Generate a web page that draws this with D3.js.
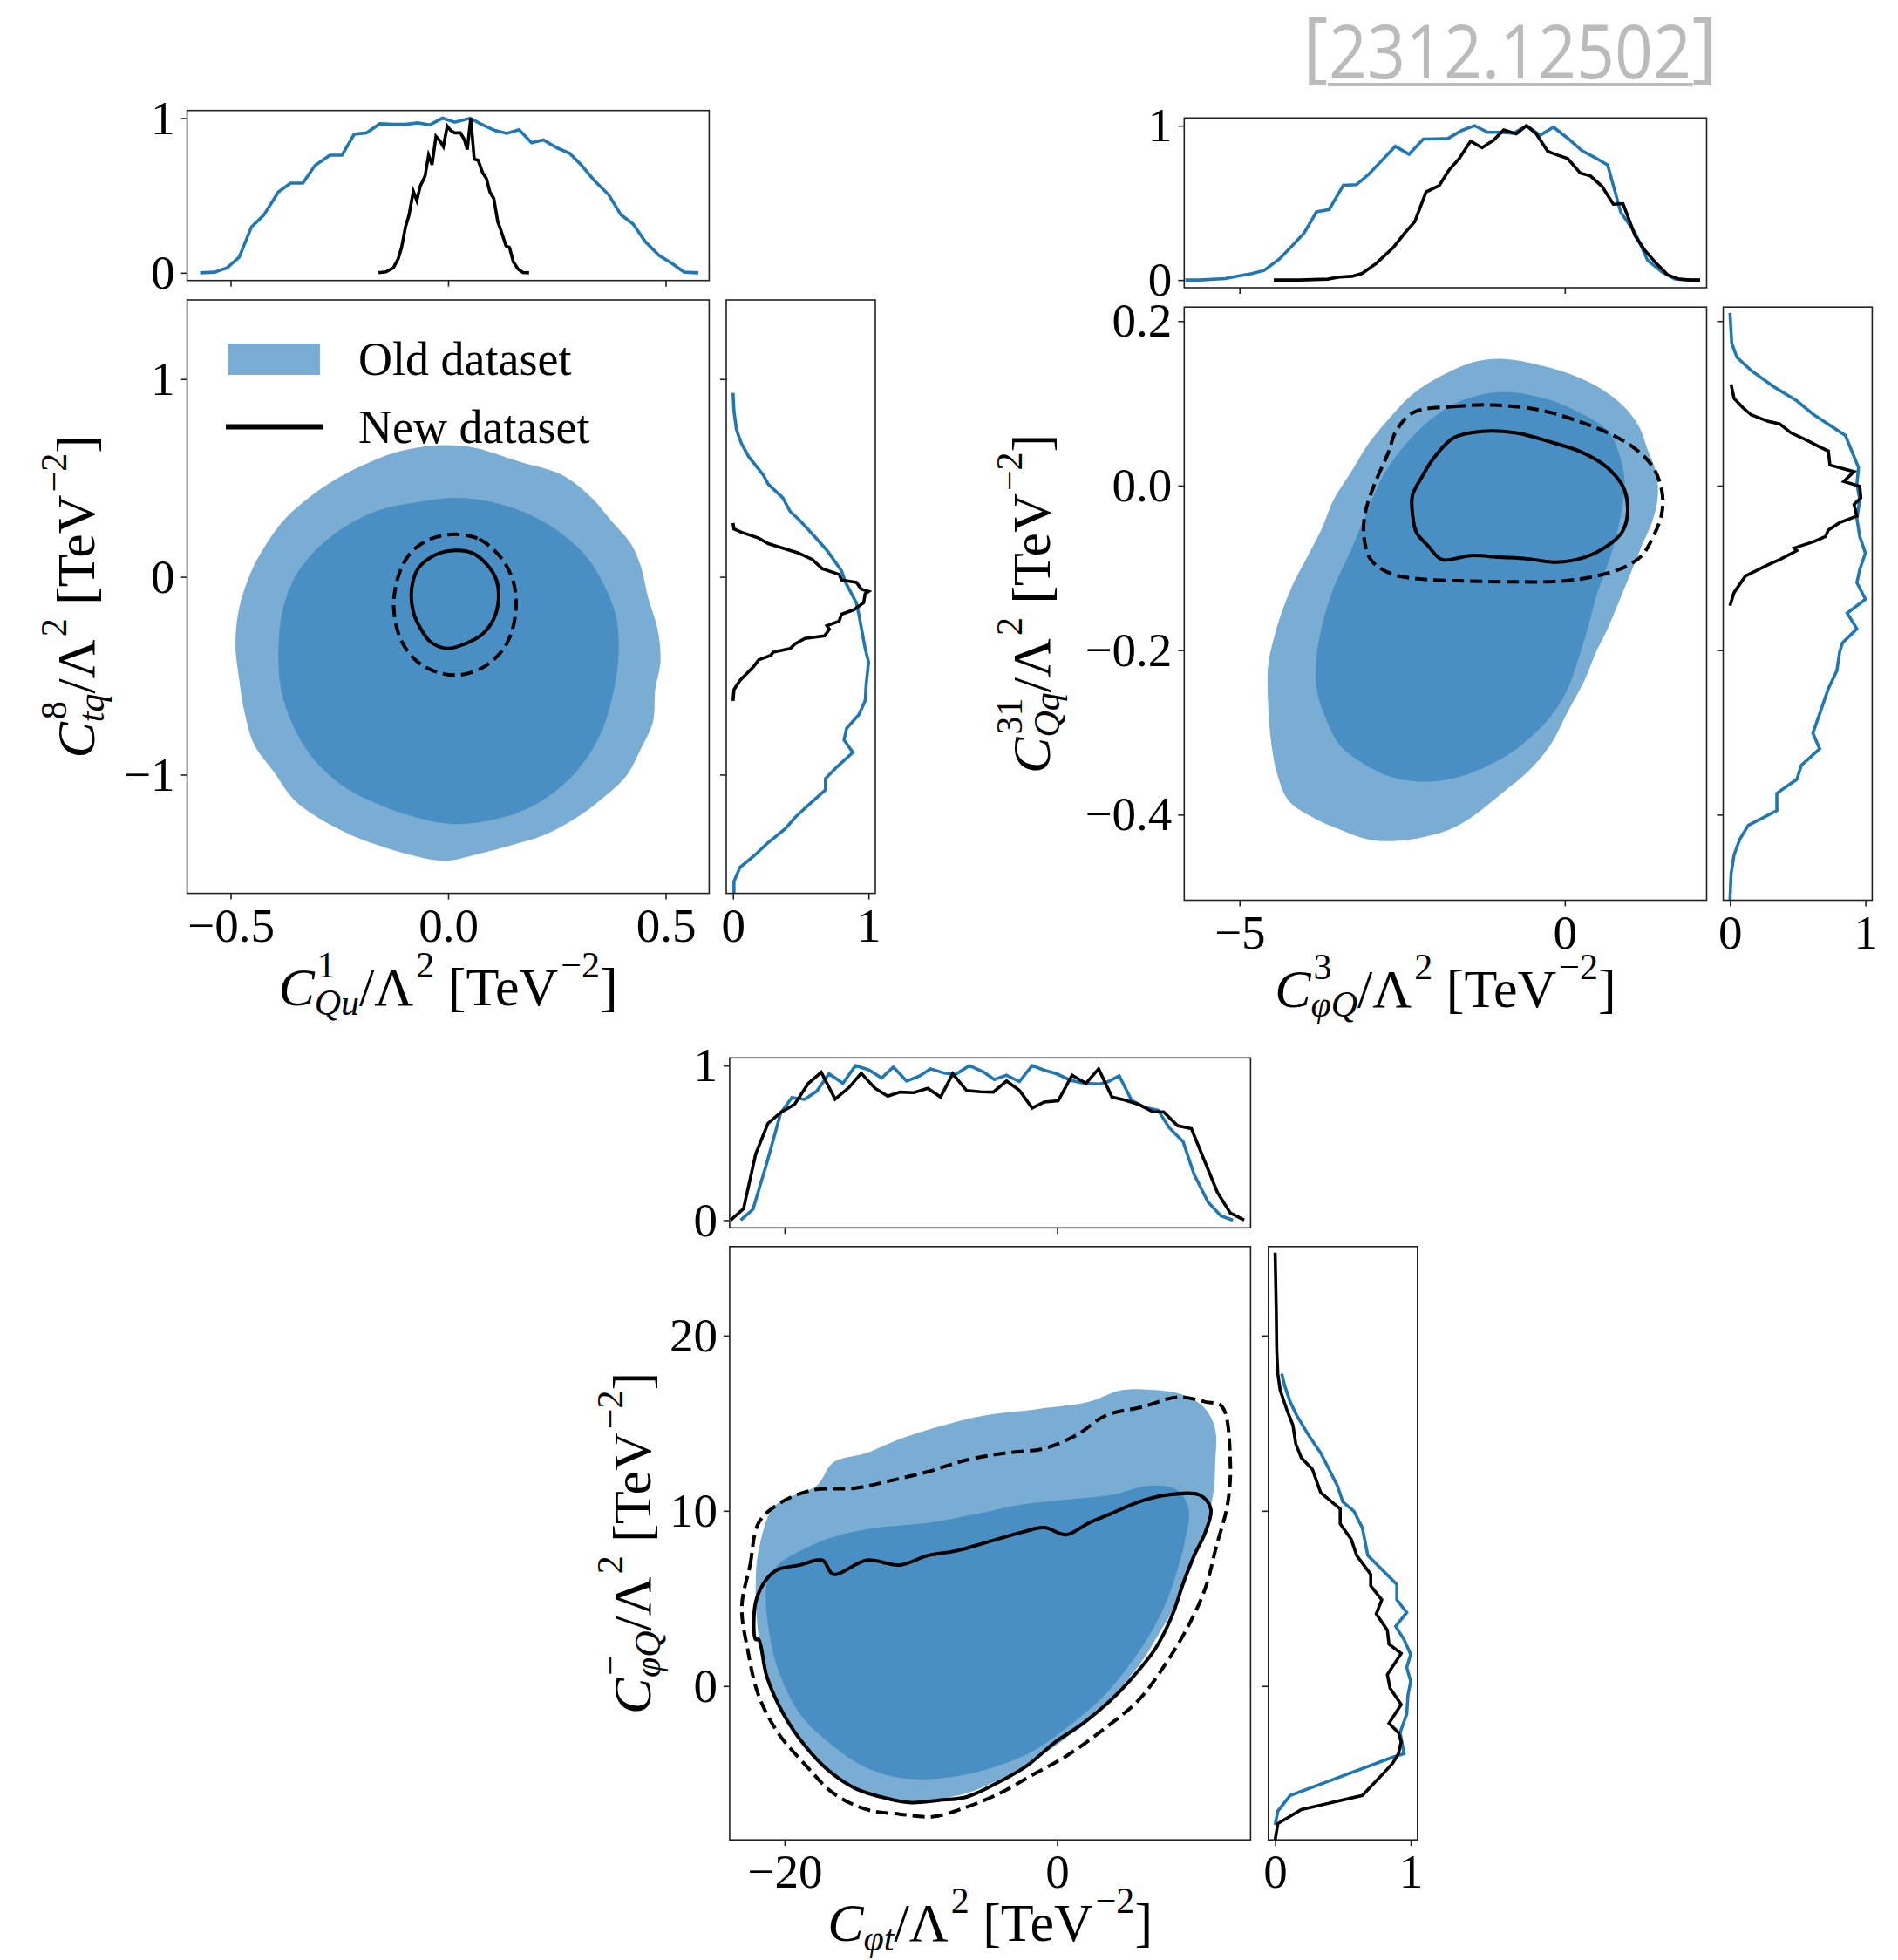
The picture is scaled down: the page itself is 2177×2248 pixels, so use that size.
<!DOCTYPE html>
<html lang="en">
<head>
<meta charset="UTF-8">
<title>Old vs new dataset</title>
<script src="https://d3js.org/d3.v7.min.js"></script>
<style>
    body { margin: 0; background: #fff; }
    svg { font-family: "Liberation Serif", "DejaVu Serif", serif; }
</style>
</head>
<body>
<div id="chart"></div>
<script>

// ---------- data: panel A (C1Qu vs C8tq) ----------
var aOldOuter = [[-0.030,0.664],[0.060,0.653],[0.161,0.584],[0.263,0.514],[0.330,0.399],[0.375,0.284],[0.420,0.168],[0.443,0.053],[0.460,-0.108],[0.482,-0.270],[0.488,-0.431],[0.476,-0.570],[0.471,-0.731],[0.443,-0.870],[0.409,-1.008],[0.353,-1.123],[0.296,-1.216],[0.218,-1.308],[0.150,-1.354],[0.071,-1.400],[-0.007,-1.435],[-0.097,-1.400],[-0.165,-1.354],[-0.232,-1.296],[-0.300,-1.216],[-0.356,-1.123],[-0.401,-0.985],[-0.446,-0.847],[-0.468,-0.685],[-0.480,-0.524],[-0.489,-0.339],[-0.480,-0.155],[-0.452,0.030],[-0.424,0.145],[-0.379,0.284],[-0.334,0.376],[-0.277,0.468],[-0.199,0.561],[-0.120,0.630]];
var aOldInner = [[-0.075,0.376],[0.015,0.399],[0.105,0.376],[0.195,0.307],[0.263,0.215],[0.319,0.099],[0.358,-0.039],[0.386,-0.201],[0.392,-0.385],[0.381,-0.570],[0.358,-0.754],[0.319,-0.916],[0.263,-1.054],[0.184,-1.170],[0.105,-1.227],[0.015,-1.250],[-0.075,-1.216],[-0.165,-1.146],[-0.244,-1.054],[-0.311,-0.916],[-0.356,-0.754],[-0.384,-0.570],[-0.390,-0.362],[-0.379,-0.155],[-0.350,0.007],[-0.300,0.145],[-0.232,0.261],[-0.154,0.341]];
var aNewSolid = [[0.015,0.134],[0.054,0.122],[0.088,0.065],[0.111,-0.016],[0.116,-0.108],[0.105,-0.212],[0.077,-0.293],[0.038,-0.339],[-0.002,-0.362],[-0.041,-0.328],[-0.064,-0.258],[-0.080,-0.178],[-0.084,-0.062],[-0.069,0.042],[-0.030,0.111]];
var aNewDashed = [[0.015,0.215],[0.071,0.191],[0.116,0.111],[0.145,0.007],[0.156,-0.108],[0.150,-0.247],[0.128,-0.362],[0.083,-0.454],[0.026,-0.496],[-0.030,-0.478],[-0.075,-0.420],[-0.109,-0.316],[-0.125,-0.155],[-0.114,0.007],[-0.086,0.122],[-0.041,0.191]];
var aTopOld = [[-0.570,0],[-0.537,0.004],[-0.508,0.032],[-0.480,0.102],[-0.452,0.297],[-0.424,0.372],[-0.390,0.524],[-0.362,0.580],[-0.334,0.580],[-0.306,0.694],[-0.272,0.761],[-0.244,0.761],[-0.216,0.896],[-0.188,0.905],[-0.157,0.964],[-0.126,0.960],[-0.098,0.960],[-0.070,0.970],[-0.042,0.957],[-0.013,1.0],[0.015,0.974],[0.051,1.0],[0.076,0.962],[0.107,0.921],[0.135,0.902],[0.163,0.926],[0.192,0.841],[0.219,0.860],[0.251,0.807],[0.279,0.773],[0.307,0.694],[0.335,0.600],[0.369,0.505],[0.397,0.376],[0.425,0.316],[0.453,0.202],[0.485,0.112],[0.515,0.060],[0.543,0.004],[0.575,0]];
var aTopNew = [[-0.160,0],[-0.143,0.006],[-0.126,0.032],[-0.115,0.089],[-0.107,0.164],[-0.098,0.297],[-0.090,0.372],[-0.080,0.527],[-0.072,0.467],[-0.064,0.561],[-0.053,0.627],[-0.045,0.761],[-0.037,0.699],[-0.028,0.882],[-0.019,0.853],[-0.011,0.816],[-0.002,0.949],[0.006,0.921],[0.015,0.905],[0.028,0.905],[0.037,0.863],[0.044,0.797],[0.052,1.0],[0.060,0.735],[0.069,0.728],[0.079,0.648],[0.088,0.610],[0.096,0.522],[0.105,0.480],[0.114,0.331],[0.121,0.278],[0.133,0.174],[0.141,0.164],[0.150,0.070],[0.161,0.023],[0.172,0.002],[0.186,0]];
var aRightOld = [[0.007,-1.600],[0.007,-1.539],[0.051,-1.469],[0.152,-1.412],[0.260,-1.343],[0.386,-1.273],[0.458,-1.216],[0.549,-1.158],[0.682,-1.077],[0.682,-1.020],[0.765,-0.962],[0.884,-0.888],[0.819,-0.824],[0.838,-0.766],[0.928,-0.697],[0.975,-0.627],[0.982,-0.547],[1.0,-0.431],[0.975,-0.362],[0.953,-0.281],[0.928,-0.189],[0.910,-0.131],[0.874,-0.085],[0.830,-0.028],[0.801,0.030],[0.693,0.134],[0.603,0.203],[0.495,0.284],[0.422,0.330],[0.368,0.399],[0.260,0.468],[0.224,0.514],[0.170,0.561],[0.116,0.607],[0.061,0.676],[0.025,0.745],[0.007,0.837],[0,0.930]];
var aRightNew = [[0,-0.627],[0.007,-0.570],[0.051,-0.524],[0.152,-0.454],[0.188,-0.420],[0.278,-0.397],[0.296,-0.381],[0.422,-0.362],[0.458,-0.339],[0.531,-0.311],[0.675,-0.298],[0.711,-0.265],[0.693,-0.247],[0.783,-0.224],[0.801,-0.189],[0.892,-0.166],[0.964,-0.131],[0.975,-0.085],[1.0,-0.074],[0.946,-0.062],[0.910,-0.028],[0.801,-0.016],[0.783,0.012],[0.657,0.042],[0.585,0.088],[0.477,0.122],[0.368,0.145],[0.260,0.168],[0.188,0.196],[0.061,0.226],[0.007,0.242],[0,0.272]];

// ---------- data: panel B (C3phiQ vs C31Qq) ----------
var bOldOuter = [[-0.921,0.154],[-0.307,0.145],[0.132,0.134],[0.570,0.117],[0.921,0.095],[1.140,0.072],[1.272,0.044],[1.404,0.016],[1.430,-0.012],[1.360,-0.040],[1.184,-0.073],[1.009,-0.107],[0.833,-0.141],[0.658,-0.174],[0.482,-0.202],[0.307,-0.236],[0.044,-0.275],[-0.219,-0.315],[-0.570,-0.348],[-0.921,-0.371],[-1.360,-0.399],[-1.711,-0.416],[-2.149,-0.427],[-2.588,-0.432],[-3.026,-0.430],[-3.465,-0.418],[-3.904,-0.402],[-4.254,-0.382],[-4.430,-0.348],[-4.518,-0.309],[-4.561,-0.264],[-4.561,-0.219],[-4.474,-0.186],[-4.342,-0.152],[-4.167,-0.118],[-3.947,-0.085],[-3.728,-0.051],[-3.553,-0.017],[-3.289,0.016],[-3.026,0.050],[-2.675,0.084],[-2.325,0.112],[-1.886,0.134],[-1.360,0.151]];
var bOldInner = [[-0.921,0.114],[-0.307,0.106],[0.219,0.089],[0.658,0.067],[0.833,0.039],[0.921,0.005],[0.877,-0.029],[0.789,-0.062],[0.658,-0.096],[0.482,-0.135],[0.351,-0.174],[0.219,-0.208],[0.044,-0.247],[-0.219,-0.281],[-0.658,-0.315],[-1.096,-0.337],[-1.623,-0.354],[-2.149,-0.360],[-2.675,-0.354],[-3.114,-0.337],[-3.465,-0.315],[-3.684,-0.281],[-3.816,-0.247],[-3.816,-0.208],[-3.728,-0.169],[-3.553,-0.124],[-3.289,-0.079],[-3.026,-0.029],[-2.763,0.016],[-2.325,0.061],[-1.798,0.095],[-1.360,0.109]];
var bNewSolid = [[-1.711,0.058],[-1.272,0.066],[-0.746,0.064],[-0.219,0.053],[0.219,0.042],[0.570,0.027],[0.789,0.011],[0.921,-0.006],[0.965,-0.034],[0.877,-0.057],[0.658,-0.073],[0.307,-0.087],[-0.132,-0.093],[-0.570,-0.089],[-1.009,-0.087],[-1.447,-0.085],[-1.886,-0.090],[-2.105,-0.073],[-2.281,-0.057],[-2.342,-0.034],[-2.342,-0.012],[-2.193,0.011],[-2.018,0.033]];
var bNewDashed = [[-2.325,0.089],[-1.711,0.096],[-1.096,0.098],[-0.395,0.092],[0.219,0.078],[0.746,0.061],[1.096,0.044],[1.360,0.022],[1.491,-0.006],[1.491,-0.034],[1.360,-0.062],[1.184,-0.085],[0.921,-0.099],[0.482,-0.110],[-0.044,-0.116],[-0.746,-0.117],[-1.447,-0.116],[-2.149,-0.114],[-2.675,-0.107],[-2.982,-0.090],[-3.088,-0.062],[-3.070,-0.034],[-2.939,-0.001],[-2.719,0.039],[-2.588,0.067]];
var bTopOld = [[-5.833,0],[-5.614,0],[-5.219,0.009],[-5.0,0.028],[-4.825,0.040],[-4.623,0.062],[-4.386,0.137],[-4.211,0.213],[-4.009,0.303],[-3.816,0.442],[-3.623,0.457],[-3.404,0.614],[-3.202,0.618],[-3.009,0.687],[-2.807,0.777],[-2.605,0.866],[-2.395,0.815],[-2.175,0.913],[-1.974,0.915],[-1.798,0.917],[-1.579,0.970],[-1.386,1.0],[-1.184,0.957],[-0.991,0.957],[-0.789,0.951],[-0.588,1.0],[-0.377,0.938],[-0.175,0.991],[0.044,0.919],[0.263,0.838],[0.465,0.793],[0.658,0.746],[0.860,0.439],[1.079,0.307],[1.272,0.128],[1.491,0.053],[1.693,0.006],[1.886,0],[2.079,0]];
var bTopNew = [[-4.474,0],[-4.079,0],[-3.640,0.006],[-3.465,0.019],[-3.272,0.024],[-3.114,0.043],[-2.895,0.109],[-2.632,0.213],[-2.456,0.307],[-2.307,0.377],[-2.132,0.571],[-1.930,0.612],[-1.781,0.712],[-1.623,0.787],[-1.447,0.900],[-1.272,0.857],[-1.096,0.906],[-0.939,0.972],[-0.746,0.947],[-0.588,1.0],[-0.439,0.947],[-0.263,0.834],[-0.132,0.812],[0.044,0.787],[0.237,0.693],[0.395,0.674],[0.570,0.608],[0.746,0.491],[0.895,0.495],[1.079,0.288],[1.228,0.194],[1.404,0.109],[1.579,0.034],[1.754,0.006],[1.930,0],[2.079,0]];
var bRightOld = [[0,-0.504],[0.008,-0.472],[0.030,-0.449],[0.072,-0.430],[0.135,-0.413],[0.346,-0.395],[0.346,-0.374],[0.494,-0.357],[0.527,-0.340],[0.662,-0.320],[0.612,-0.301],[0.684,-0.267],[0.726,-0.247],[0.789,-0.225],[0.810,-0.202],[0.831,-0.191],[0.937,-0.174],[0.865,-0.155],[1.0,-0.138],[0.937,-0.118],[0.958,-0.102],[1.0,-0.082],[0.958,-0.062],[0.937,-0.040],[0.958,-0.017],[0.937,0.002],[0.949,0.022],[0.852,0.061],[0.620,0.086],[0.494,0.103],[0.325,0.120],[0.156,0.140],[0.051,0.156],[0.013,0.173],[0,0.210]];
var bRightNew = [[0,-0.146],[0.030,-0.130],[0.114,-0.110],[0.283,-0.096],[0.367,-0.090],[0.494,-0.079],[0.473,-0.076],[0.620,-0.068],[0.705,-0.062],[0.726,-0.054],[0.810,-0.045],[0.937,-0.037],[0.916,-0.023],[0.966,-0.015],[0.958,-0.001],[0.840,0.005],[0.916,0.017],[0.738,0.025],[0.726,0.042],[0.662,0.047],[0.557,0.056],[0.451,0.064],[0.367,0.075],[0.283,0.078],[0.156,0.086],[0.093,0.095],[0.030,0.106],[0.008,0.123]];

// ---------- data: panel C (Cphit vs C-phiQ) ----------
var cOldOuter = [[-22.12,5.85],[-21.91,7.71],[-20.90,10.11],[-19.67,10.77],[-17.64,11.44],[-16.42,12.77],[-13.97,13.30],[-11.53,14.10],[-8.27,14.89],[-5.42,15.43],[-1.34,15.82],[2.32,16.22],[4.77,16.89],[7.21,16.89],[9.25,16.62],[10.88,15.82],[11.61,14.63],[11.61,12.77],[11.49,11.17],[11.08,9.57],[10.47,7.98],[9.65,6.38],[8.84,4.79],[7.62,3.19],[6.40,1.60],[4.77,0],[2.73,-1.60],[0.29,-3.19],[-1.75,-4.26],[-4.20,-5.32],[-6.64,-6.12],[-9.49,-6.52],[-11.53,-6.52],[-13.56,-6.12],[-16.42,-5.05],[-18.45,-3.46],[-20.08,-1.60],[-21.30,0.80],[-21.91,2.93]];
var cOldInner = [[-21.30,5.85],[-20.49,6.91],[-18.86,7.71],[-16.42,8.51],[-13.16,9.04],[-9.49,9.31],[-5.82,9.84],[-2.57,10.37],[0.69,10.64],[3.95,10.90],[6.80,11.44],[8.84,11.17],[9.65,10.11],[9.45,8.51],[8.84,6.65],[8.02,4.79],[6.80,2.93],[5.17,1.06],[3.14,-0.80],[0.69,-2.39],[-1.75,-3.72],[-4.20,-4.52],[-6.64,-5.05],[-9.49,-5.32],[-11.93,-5.19],[-14.38,-4.52],[-16.82,-3.19],[-18.86,-1.60],[-20.29,0.53],[-21.10,2.93]];
var cNewSolid = [[-22.12,2.66],[-22.12,4.79],[-21.30,6.12],[-20.49,6.65],[-18.86,6.91],[-17.23,7.18],[-16.42,6.38],[-13.97,7.18],[-11.53,6.91],[-9.49,7.45],[-7.45,7.71],[-5.01,8.24],[-2.57,8.78],[-0.94,9.04],[0.69,8.64],[2.32,9.31],[3.95,9.84],[5.99,10.51],[8.02,10.90],[10.47,10.90],[11.28,10.11],[10.88,8.78],[10.06,7.45],[9.25,5.85],[8.43,3.99],[7.21,2.13],[5.58,0.53],[3.95,-0.80],[1.91,-2.13],[-0.12,-3.19],[-2.16,-4.52],[-4.20,-5.45],[-6.64,-6.33],[-8.68,-6.52],[-10.71,-6.65],[-12.34,-6.44],[-14.79,-5.85],[-16.82,-4.79],[-18.45,-3.46],[-20.08,-1.60],[-21.30,0.53],[-21.91,2.66]];
var cNewDashed = [[-23.14,4.52],[-22.53,6.91],[-21.91,9.31],[-20.49,10.37],[-18.04,11.17],[-14.79,11.30],[-12.34,11.70],[-9.49,12.23],[-6.64,12.90],[-3.79,13.30],[-0.94,13.56],[1.51,14.36],[3.54,15.43],[6.40,15.96],[8.84,16.49],[10.88,16.22],[12.10,15.96],[12.71,12.77],[12.51,10.37],[11.69,7.98],[10.88,5.59],[9.65,3.46],[8.02,1.33],[5.99,-0.80],[3.54,-2.39],[0.69,-3.99],[-1.75,-5.05],[-4.20,-6.12],[-6.64,-6.91],[-9.08,-7.45],[-11.53,-7.31],[-13.97,-7.05],[-16.42,-6.12],[-18.45,-4.52],[-20.49,-2.66],[-21.91,-0.53],[-22.72,2.13]];
var cTopOld = [[-23.22,0],[-22.32,0.070],[-21.30,0.370],[-20.29,0.692],[-19.47,0.792],[-18.53,0.781],[-17.64,0.834],[-16.74,0.947],[-15.72,0.885],[-14.79,1.0],[-13.77,0.970],[-12.87,0.919],[-12.02,0.991],[-11.04,0.900],[-10.10,0.932],[-9.29,0.979],[-8.27,0.951],[-7.45,0.943],[-6.44,1.0],[-5.42,0.960],[-4.60,0.909],[-3.71,0.938],[-2.77,0.896],[-1.83,1.0],[-0.94,0.970],[-0.04,0.947],[1.02,0.904],[2.00,0.885],[3.14,0.881],[3.75,0.896],[4.56,0.934],[5.46,0.777],[6.40,0.730],[7.41,0.711],[8.23,0.598],[9.25,0.508],[10.06,0.296],[11.08,0.117],[12.02,0.028],[12.91,0]];
var cTopNew = [[-23.95,0],[-23.01,0.074],[-22.12,0.428],[-21.22,0.626],[-20.29,0.696],[-19.27,0.749],[-18.25,0.885],[-17.31,0.957],[-16.29,0.783],[-15.27,0.858],[-14.38,0.951],[-13.36,0.853],[-12.42,0.802],[-11.53,0.828],[-10.51,0.825],[-9.49,0.853],[-8.55,0.796],[-7.66,0.947],[-6.64,0.838],[-5.62,0.830],[-4.68,0.828],[-3.71,0.900],[-2.77,0.840],[-1.83,0.725],[-0.94,0.764],[0.08,0.772],[1.10,0.938],[2.12,0.885],[3.05,0.979],[4.03,0.796],[4.97,0.777],[5.99,0.749],[7.01,0.702],[7.82,0.700],[8.84,0.611],[9.86,0.592],[10.79,0.390],[11.77,0.179],[12.71,0.047],[13.73,0]];
var cRightOld = [[0,-7.93],[0.020,-7.13],[0.111,-6.25],[0.848,-4.12],[0.951,-3.86],[0.922,-2.66],[0.971,-1.60],[0.980,-0.53],[1.0,0.27],[0.971,1.06],[1.0,1.81],[0.951,2.66],[0.889,3.40],[0.971,4.20],[0.898,4.92],[0.898,5.80],[0.684,7.45],[0.643,9.04],[0.582,9.97],[0.500,10.51],[0.459,11.44],[0.336,13.30],[0.254,14.23],[0.160,15.43],[0.111,16.22],[0.070,17.15],[0.049,17.82]];
var cRightNew = [[0,-8.78],[0.020,-7.85],[0.193,-7.05],[0.643,-6.25],[0.725,-5.59],[0.807,-4.92],[0.869,-4.39],[0.910,-3.86],[0.930,-3.19],[0.910,-2.66],[0.840,-2.13],[0.930,-1.06],[0.848,-0.13],[0.828,0.66],[0.930,1.86],[0.840,2.39],[0.828,3.19],[0.746,4.12],[0.787,4.92],[0.705,5.72],[0.705,6.38],[0.602,7.45],[0.561,8.38],[0.480,9.26],[0.480,10.11],[0.336,11.04],[0.275,12.37],[0.193,13.03],[0.152,13.83],[0.131,14.89],[0.090,15.69],[0.037,16.89],[0.020,17.82],[0.012,19.15],[0.008,21.54],[0,24.73]];

// ---------- ticks and labels ----------
var aXTicks = [-0.5, 0, 0.5], aXTickLabels = ["\u22120.5", "0.0", "0.5"];
var aYTicks = [-1, 0, 1],     aYTickLabels = ["\u22121", "0", "1"];
var bXTicks = [-5, 0],        bXTickLabels = ["\u22125", "0"];
var bYTicks = [-0.4, -0.2, 0, 0.2], bYTickLabels = ["\u22120.4", "\u22120.2", "0.0", "0.2"];
var cXTicks = [-20, 0],       cXTickLabels = ["\u221220", "0"];
var cYTicks = [0, 10, 20],    cYTickLabels = ["0", "10", "20"];
var margTicks = [0, 1],       margTickLabels = ["0", "1"];
var legendLabels = ["Old dataset", "New dataset"];

var LIGHT = "#79add3", DARK = "#4a8fc3", BLUE = "#1f77b4";
var TICK_FS = 55, LAB_FS = 62, SUB_FS = 42;

var svg = d3.select("#chart").append("svg")
    .attr("width", 2177)
    .attr("height", 2248);

// tiny helper for mathtext-ish labels
function mathText(txt, segs) {
    var cur = 0;
    segs.forEach(function(s) {
        var sh = s.sh || 0;
        var ts = txt.append("tspan").text(s.t).attr("dy", sh - cur);
        cur = sh;
        if (s.it) ts.attr("font-style", "italic");
        if (s.small) ts.attr("font-size", SUB_FS);
        if (s.dx) ts.attr("dx", s.dx);
    });
}

function sup(t) { return {t: t, sh: -32, small: 1, dx: 3}; }
function sub(t, dx) { return {t: t, sh: 11, small: 1, it: 1, dx: dx}; }
var tail = [{t: "/\u039b"}, sup("2"), {t: " [TeV"}, sup("\u22122"), {t: "]"}];

function styleAxis(g) {
    g.select(".domain").remove();
    g.attr("font-family", "Liberation Serif, DejaVu Serif, serif").attr("font-size", TICK_FS);
    g.selectAll(".tick line").attr("stroke", "#222").attr("stroke-width", 1.6);
    g.selectAll(".tick text").attr("fill", "#000");
}

function drawPanel(p) {
    var b = p.box;
    var x = d3.scaleLinear().domain(p.xDom).range([b.x0, b.x1]);
    var y = d3.scaleLinear().domain(p.yDom).range([b.y1, b.y0]);
    var ym = d3.scaleLinear().domain([-0.05, 1.05]).range([p.top.y1, p.top.y0]);
    var xm = d3.scaleLinear().domain([-0.05, 1.05]).range([p.right.x0, p.right.x1]);

    var g = svg.append("g");

    // filled contours of the old dataset
    var closed = d3.line().x(function(d) { return x(d[0]); }).y(function(d) { return y(d[1]); })
        .curve(d3.curveCatmullRomClosed.alpha(0.5));
    g.append("path").attr("d", closed(p.oldOuter)).attr("fill", LIGHT);
    g.append("path").attr("d", closed(p.oldInner)).attr("fill", DARK);

    // line contours of the new dataset
    g.append("path").attr("d", closed(p.newSolid))
        .attr("fill", "none").attr("stroke", "#000").attr("stroke-width", 4);
    g.append("path").attr("d", closed(p.newDashed))
        .attr("fill", "none").attr("stroke", "#000").attr("stroke-width", 4)
        .attr("stroke-dasharray", "14,7");

    // top marginal
    var topLine = d3.line().x(function(d) { return x(d[0]); }).y(function(d) { return ym(d[1]); });
    g.append("path").attr("d", topLine(p.topOld)).attr("fill", "none").attr("stroke", BLUE).attr("stroke-width", 3.6);
    g.append("path").attr("d", topLine(p.topNew)).attr("fill", "none").attr("stroke", "#000").attr("stroke-width", 3.6);

    // right marginal
    var rightLine = d3.line().x(function(d) { return xm(d[0]); }).y(function(d) { return y(d[1]); });
    g.append("path").attr("d", rightLine(p.rightOld)).attr("fill", "none").attr("stroke", BLUE).attr("stroke-width", 3.6);
    g.append("path").attr("d", rightLine(p.rightNew)).attr("fill", "none").attr("stroke", "#000").attr("stroke-width", 3.6);

    // axes, main
    g.append("g").attr("transform", "translate(0," + b.y1 + ")")
        .call(d3.axisBottom(x).tickValues(p.xTicks).tickFormat(function(d, i) { return p.xTickLabels[i]; })
            .tickSize(7).tickPadding(9))
        .call(styleAxis);
    g.append("g").attr("transform", "translate(" + b.x0 + ",0)")
        .call(d3.axisLeft(y).tickValues(p.yTicks).tickFormat(function(d, i) { return p.yTickLabels[i]; })
            .tickSize(7).tickPadding(7))
        .call(styleAxis);

    // axes, top marginal
    g.append("g").attr("transform", "translate(0," + p.top.y1 + ")")
        .call(d3.axisBottom(x).tickValues(p.xTicks).tickFormat("").tickSize(7))
        .call(styleAxis);
    g.append("g").attr("transform", "translate(" + b.x0 + ",0)")
        .call(d3.axisLeft(ym).tickValues(margTicks).tickFormat(function(d, i) { return margTickLabels[i]; })
            .tickSize(7).tickPadding(7))
        .call(styleAxis);

    // axes, right marginal
    g.append("g").attr("transform", "translate(" + p.right.x0 + ",0)")
        .call(d3.axisLeft(y).tickValues(p.yTicks).tickFormat("").tickSize(7))
        .call(styleAxis);
    g.append("g").attr("transform", "translate(0," + b.y1 + ")")
        .call(d3.axisBottom(xm).tickValues(margTicks).tickFormat(function(d, i) { return margTickLabels[i]; })
            .tickSize(7).tickPadding(9))
        .call(styleAxis);

    // frames
    [[b.x0, b.y0, b.x1, b.y1], [b.x0, p.top.y0, b.x1, p.top.y1], [p.right.x0, b.y0, p.right.x1, b.y1]]
        .forEach(function(r) {
            g.append("rect").attr("x", r[0]).attr("y", r[1])
                .attr("width", r[2] - r[0]).attr("height", r[3] - r[1])
                .attr("fill", "none").attr("stroke", "#222").attr("stroke-width", 1.6);
        });

    // axis labels
    var xl = g.append("text").attr("x", (b.x0 + b.x1) / 2).attr("y", p.xLabY)
        .attr("text-anchor", "middle").attr("font-size", LAB_FS);
    mathText(xl, p.xLab);
    var yl = g.append("text").attr("text-anchor", "middle").attr("font-size", LAB_FS)
        .attr("transform", "translate(" + p.yLabX + "," + (b.y0 + b.y1) / 2 + ") rotate(-90)");
    mathText(yl, p.yLab);
}

drawPanel({
    box: {x0: 214.6, x1: 813.4, y0: 344, y1: 1024.6},
    top: {y0: 126.7, y1: 321.7},
    right: {x0: 833, x1: 1004},
    xDom: [-0.6, 0.6], yDom: [-1.6, 1.4],
    xTicks: aXTicks, xTickLabels: aXTickLabels, yTicks: aYTicks, yTickLabels: aYTickLabels,
    oldOuter: aOldOuter, oldInner: aOldInner, newSolid: aNewSolid, newDashed: aNewDashed,
    topOld: aTopOld, topNew: aTopNew, rightOld: aRightOld, rightNew: aRightNew,
    xLabY: 1153, yLabX: 108,
    xLab: [{t: "C", it: 1}, sup("1"), sub("Qu", -24)].concat(tail),
    yLab: [{t: "C", it: 1}, sup("8"), sub("tq", -24)].concat(tail)
});

drawPanel({
    box: {x0: 1358.3, x1: 1957.5, y0: 352.2, y1: 1032.5},
    top: {y0: 135.3, y1: 330},
    right: {x0: 1976.5, x1: 2147.4},
    xDom: [-5.85, 2.18], yDom: [-0.504, 0.217],
    xTicks: bXTicks, xTickLabels: bXTickLabels, yTicks: bYTicks, yTickLabels: bYTickLabels,
    oldOuter: bOldOuter, oldInner: bOldInner, newSolid: bNewSolid, newDashed: bNewDashed,
    topOld: bTopOld, topNew: bTopNew, rightOld: bRightOld, rightNew: bRightNew,
    xLabY: 1155, yLabX: 1204,
    xLab: [{t: "C", it: 1}, sup("3"), sub("\u03c6Q", -24)].concat(tail),
    yLab: [{t: "C", it: 1}, sup("31"), sub("Qq", -45)].concat(tail)
});

drawPanel({
    box: {x0: 836.9, x1: 1434.4, y0: 1429.8, y1: 2110.2},
    top: {y0: 1213.3, y1: 1408.3},
    right: {x0: 1454.8, x1: 1625.8},
    xDom: [-24.03, 14.2], yDom: [-8.78, 25.08],
    xTicks: cXTicks, xTickLabels: cXTickLabels, yTicks: cYTicks, yTickLabels: cYTickLabels,
    oldOuter: cOldOuter, oldInner: cOldInner, newSolid: cNewSolid, newDashed: cNewDashed,
    topOld: cTopOld, topNew: cTopNew, rightOld: cRightOld, rightNew: cRightNew,
    xLabY: 2226, yLabX: 746,
    xLab: [{t: "C", it: 1}, sub("\u03c6t")].concat(tail),
    yLab: [{t: "C", it: 1}, sup("\u2212"), sub("\u03c6Q", -26)].concat(tail)
});

// legend (top-left panel)
var leg = svg.append("g").attr("font-size", 54);
leg.append("rect").attr("x", 262).attr("y", 394).attr("width", 105).attr("height", 36).attr("fill", LIGHT);
leg.append("line").attr("x1", 259).attr("x2", 371).attr("y1", 489.5).attr("y2", 489.5)
    .attr("stroke", "#000").attr("stroke-width", 6);
leg.selectAll("text.leg").data(legendLabels).enter().append("text")
    .attr("class", "leg")
    .attr("x", 411)
    .attr("y", function(d, i) { return 430 + i * 78; })
    .text(function(d) { return d; });

// arXiv tag
var tag = svg.append("g").attr("fill", "#bbbbbb").attr("font-family", "Open Sans, DejaVu Sans, sans-serif");
tag.append("text").attr("x", 1494).attr("y", 84).attr("font-size", 90).text("[");
tag.append("text").attr("x", 1524).attr("y", 90).attr("font-size", 86)
    .attr("textLength", 416).attr("lengthAdjust", "spacingAndGlyphs").text("2312.12502");
tag.append("rect").attr("x", 1523).attr("y", 95).attr("width", 419).attr("height", 4);
tag.append("text").attr("x", 1970).attr("y", 84).attr("font-size", 90).attr("text-anchor", "end").text("]");

</script>
</body>
</html>
